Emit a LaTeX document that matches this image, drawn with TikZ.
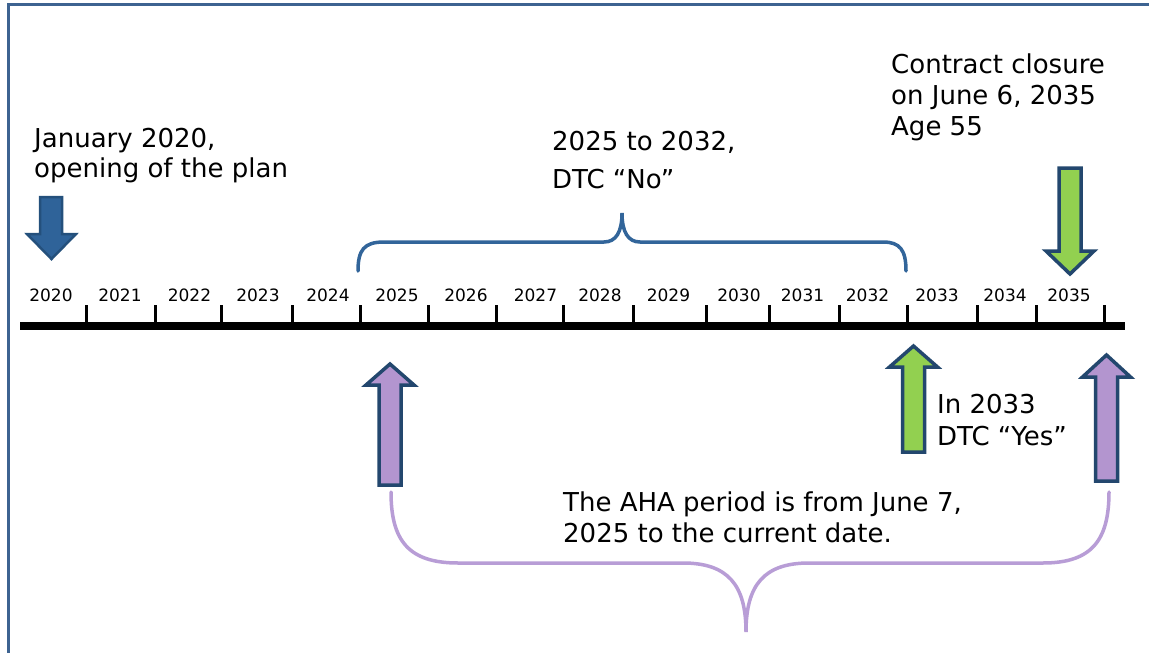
\documentclass[tikz,border=0pt]{standalone}
\usepackage{fontspec}
\setmainfont{DejaVu Sans}
\definecolor{framecol}{RGB}{61,99,145}
\definecolor{bluefill}{RGB}{47,99,153}
\definecolor{blueline}{RGB}{36,80,124}
\definecolor{braceblue}{RGB}{50,101,154}
\definecolor{greenfill}{RGB}{146,208,80}
\definecolor{navyline}{RGB}{35,71,110}
\definecolor{purplefill}{RGB}{179,149,207}
\definecolor{bracepurple}{RGB}{184,157,214}
\newcommand\mylines[2]{\vtop{\baselineskip=#1\relax #2}}
\tikzset{
  txt/.style={anchor=base west, inner sep=0pt, text=black, font=\fontsize{26}{30}\selectfont},
  yearlbl/.style={anchor=base, inner sep=0pt, text=black, font=\fontsize{17}{20}\selectfont},
  axisline/.style={line width=8pt, black},
  tickline/.style={line width=3pt, black},
  bigarrow/.style={line width=3.5pt, draw=navyline, line join=miter},
  bracelinestyle/.style={line width=3.5pt, line cap=round},
}
\begin{document}
\begin{tikzpicture}[x=1pt,y=-1pt]
\useasboundingbox[fill=white] (0,0) rectangle (1149,653);
% frame
\draw[framecol, line width=3pt] (8,653) -- (8,4) -- (1149,4);
% texts
\node[txt] (jan) at (34,147) {\mylines{30pt}{\hbox{January 2020,}\hbox{opening of the plan}}};
\node[txt] (dtcno) at (552,150) {\mylines{38pt}{\hbox{2025 to 2032,}\hbox{DTC “No”}}};
\node[txt] (closure) at (891,73) {\mylines{31pt}{\hbox{Contract closure}\hbox{on June 6, 2035}\hbox{Age 55}}};
\node[txt] (dtcyes) at (937,413) {\mylines{32pt}{\hbox{In 2033}\hbox{DTC “Yes”}}};
\node[txt] (aha) at (563,511) {\mylines{31pt}{\hbox{The AHA period is from June 7,}\hbox{2025 to the current date.}}};
% axis
\draw[axisline] (20,326) -- (1125,326);
\foreach \x in {86,155,221,292,360,428,496,563,633,706,769,839,907,977,1036,1104}
  \draw[tickline] (\x,305) -- (\x,326);
% year labels
\foreach \x/\y in {51/2020,120/2021,189.5/2022,258/2023,328/2024,397/2025,466/2026,535.5/2027,600/2028,668.5/2029,739/2030,802.5/2031,867.5/2032,937/2033,1005/2034,1069/2035}
  \node[yearlbl] (y\y) at (\x,301) {\y};
% blue down arrow
\draw[bigarrow, fill=bluefill, draw=blueline, line width=2.5pt]
  (40,197) -- (62,197) -- (62,234) -- (76,234) -- (51.5,259) -- (27,234) -- (40,234) -- cycle;
% green down arrow
\draw[bigarrow, fill=greenfill]
  (1059,168) -- (1081,168) -- (1081,251) -- (1094,251) -- (1070,274) -- (1046,251) -- (1059,251) -- cycle;
% purple up arrow left
\draw[bigarrow, fill=purplefill]
  (379,485) -- (401,485) -- (401,385) -- (414,385) -- (390,364) -- (366,385) -- (379,385) -- cycle;
% green up arrow
\draw[bigarrow, fill=greenfill]
  (902.5,452) -- (924.5,452) -- (924.5,367) -- (937.5,367) -- (913.5,346) -- (889.5,367) -- (902.5,367) -- cycle;
% purple up arrow right
\draw[bigarrow, fill=purplefill]
  (1095.5,481) -- (1117.5,481) -- (1117.5,377) -- (1130.5,377) -- (1106.5,355) -- (1082.5,377) -- (1095.5,377) -- cycle;
% blue brace
\draw[bracelinestyle, braceblue]
  (358,271) .. controls (358,250) and (364,242) .. (384,242) -- (604,242)
  .. controls (616,242) and (622,232) .. (622,213)
  .. controls (622,232) and (628,242) .. (640,242) -- (883,242)
  .. controls (900,242) and (906,250) .. (906,271);
% purple brace
\draw[bracelinestyle, bracepurple]
  (391,492) .. controls (391,540) and (408,563) .. (458,563) -- (683,563)
  .. controls (728,563) and (746,585) .. (746,632)
  .. controls (746,585) and (764,563) .. (809,563) -- (1043,563)
  .. controls (1092,563) and (1109,540) .. (1109,492);
\end{tikzpicture}
\end{document}
